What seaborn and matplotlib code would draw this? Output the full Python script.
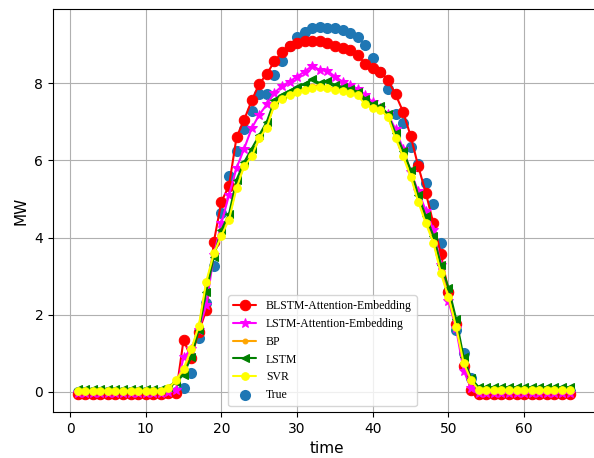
import numpy as np
import pandas as pd
import matplotlib
matplotlib.use("Agg")
import matplotlib.pyplot as plt
import seaborn as sns

# time steps 1..66
time = list(range(1, 67))

blstm_att_emb = [-0.05] * 12 + [-0.04, -0.04,
    1.35, 0.88, 1.55, 2.12, 3.89, 4.93, 5.34, 6.60, 7.05, 7.55,
    7.98, 8.24, 8.56, 8.80, 8.95, 9.05, 9.09, 9.10, 9.09, 9.03,
    8.96, 8.92, 8.86, 8.73, 8.50, 8.38, 8.30, 8.08, 7.71, 7.26,
    6.63, 5.85, 5.16, 4.37, 3.57, 2.60, 1.75, 0.66, 0.05] + [-0.05] * 13

lstm_att_emb = [-0.02] * 12 + [0.00, 0.05,
    0.90, 1.10, 1.60, 2.25, 3.55, 4.37, 5.10, 5.80, 6.30, 6.83,
    7.18, 7.45, 7.75, 7.92, 8.04, 8.17, 8.30, 8.45, 8.34, 8.32,
    8.17, 8.04, 7.95, 7.85, 7.70, 7.50, 7.35, 7.20, 6.80, 6.30,
    5.70, 5.20, 4.70, 4.20, 3.30, 2.35, 1.65, 0.55, 0.10] + [-0.02] * 13

bp = [0.05] * 12 + [0.10, 0.25,
    0.55, 1.05, 1.65, 2.80, 3.55, 4.10, 4.50, 5.35, 5.85, 6.15,
    6.55, 6.90, 7.45, 7.62, 7.72, 7.80, 7.86, 7.92, 7.95, 7.90,
    7.86, 7.82, 7.78, 7.72, 7.55, 7.38, 7.32, 7.15, 6.60, 6.15,
    5.62, 4.98, 4.42, 3.92, 3.12, 2.50, 1.75, 0.80, 0.32] + [0.07] * 13

lstm = [0.08] * 12 + [0.12, 0.25,
    0.45, 0.90, 1.60, 2.60, 3.50, 4.20, 4.60, 5.50, 5.95, 6.30,
    6.65, 7.00, 7.55, 7.70, 7.80, 7.90, 7.98, 8.10, 8.00, 8.06,
    7.95, 7.90, 7.85, 7.78, 7.60, 7.45, 7.40, 7.20, 6.70, 6.25,
    5.75, 5.10, 4.55, 4.05, 3.30, 2.70, 1.90, 0.90, 0.35] + [0.12] * 13

svr = [0.03] * 12 + [0.10, 0.30,
    0.60, 1.10, 1.70, 2.86, 3.59, 4.05, 4.46, 5.28, 5.84, 6.10,
    6.57, 6.85, 7.44, 7.60, 7.70, 7.78, 7.83, 7.87, 7.91, 7.87,
    7.83, 7.79, 7.75, 7.68, 7.45, 7.35, 7.30, 7.13, 6.57, 6.10,
    5.58, 4.93, 4.37, 3.87, 3.07, 2.45, 1.69, 0.75, 0.30] + [0.05] * 13

true_mw = [0.00] * 14 + [
    0.10, 0.50, 1.39, 2.30, 3.26, 4.63, 5.60, 6.25, 6.80, 7.29,
    7.72, 7.72, 8.20, 8.56, 8.95, 9.20, 9.32, 9.42, 9.46, 9.44,
    9.42, 9.37, 9.31, 9.20, 8.99, 8.64, 8.30, 7.86, 7.20, 6.96,
    6.35, 5.90, 5.42, 4.88, 3.87, 2.60, 1.60, 1.00, 0.35] + [0.02] * 13

sns.set_style("ticks", {"axes.grid": True, "grid.color": "#b0b0b0",
                        "axes.edgecolor": "black", "xtick.color": "black",
                        "ytick.color": "black", "text.color": "black",
                        "axes.labelcolor": "black"})

fig = plt.figure(figsize=(5.94, 4.58), dpi=100)
# axes run past the right edge, like the cropped original
ax = fig.add_axes([53 / 594, 46 / 458, 548 / 594, 403 / 458])

# measured values sit underneath the model curves
sns.scatterplot(x=time, y=true_mw, ax=ax, color="#1f77b4", s=64, linewidth=0,
                label="True", zorder=1.5)

series = [
    ("BLSTM-Attention-Embedding", blstm_att_emb, "red", "o", 7.5),
    ("LSTM-Attention-Embedding", lstm_att_emb, "magenta", "*", 7),
    ("BP", bp, "orange", ".", 7),
    ("LSTM", lstm, "green", "<", 6),
    ("SVR", svr, "yellow", "o", 5.5),
]
for name, vals, col, mk, ms in series:
    sns.lineplot(x=time, y=vals, ax=ax, color=col, marker=mk, markersize=ms,
                 markeredgecolor=col, markeredgewidth=0.75, linewidth=1.5,
                 label=name)

ax.set_xlim(-2.25, 70.15)
ax.set_ylim(-0.52, 9.92)
ax.set_xticks([0, 10, 20, 30, 40, 50, 60])
ax.set_yticks([0, 2, 4, 6, 8])
ax.tick_params(labelsize=10)
ax.grid(True, color="#b0b0b0", linewidth=0.8)
ax.set_xlabel("time", fontsize=11)
ax.set_ylabel("MW", fontsize=11)
for sp in ax.spines.values():
    sp.set_color("black")
    sp.set_linewidth(0.8)

# put True last in the legend, as in the original
handles, labels = ax.get_legend_handles_labels()
order = labels[1:] + labels[:1]
hmap = dict(zip(labels, handles))
ax.legend([hmap[l] for l in order], order, loc="lower center",
          bbox_to_anchor=(0.4915, 0), bbox_transform=ax.transAxes,
          prop={"family": "Liberation Serif", "size": 8.5})

fig.savefig("out.png", dpi=100)
